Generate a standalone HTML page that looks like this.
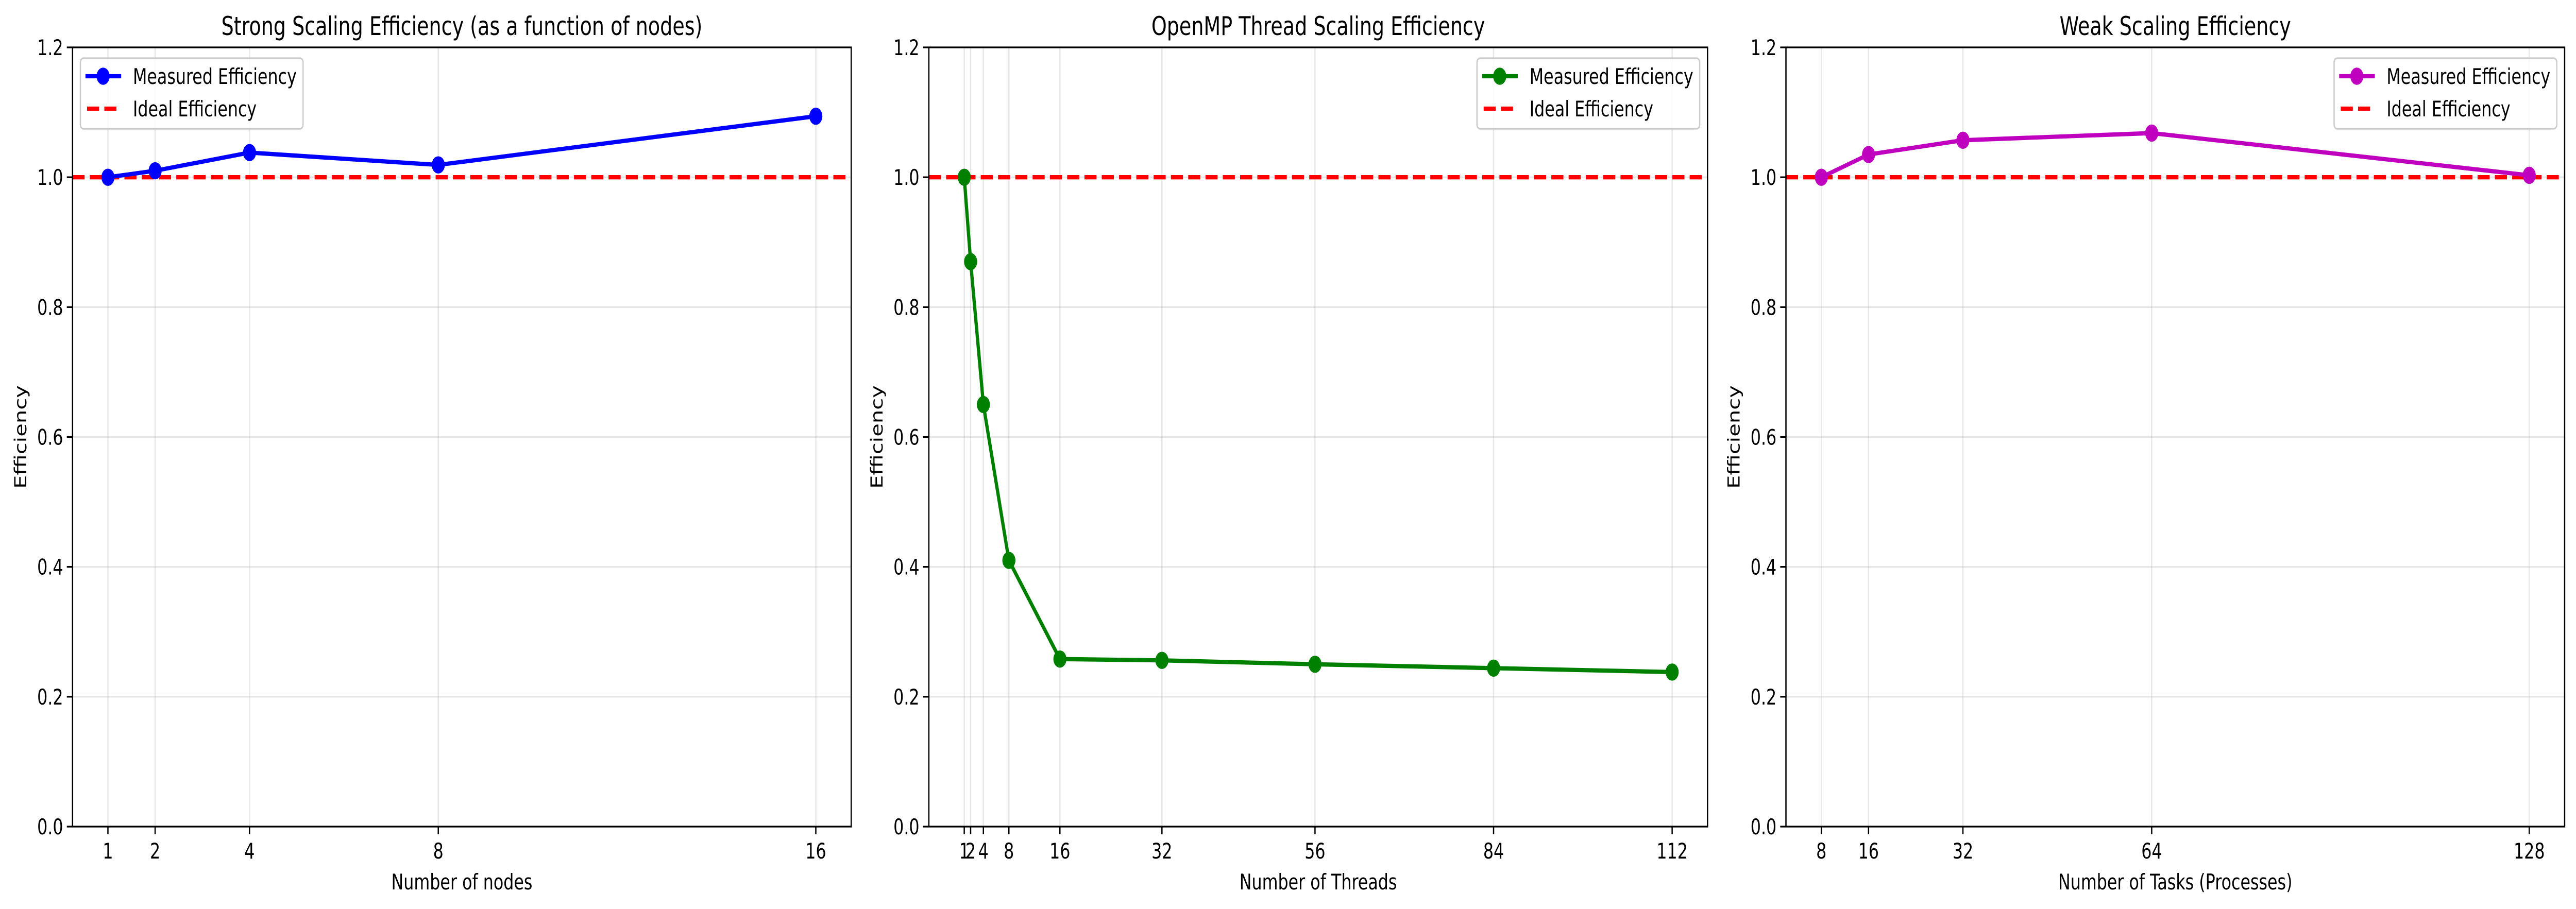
<!DOCTYPE html>
<html><head><meta charset="utf-8">
<style>
html,body{margin:0;padding:0;background:#fff;width:100%;height:100%;overflow:hidden;}
svg{display:block;width:100vw;height:100vh;}
text{font-family:"DejaVu Sans","Liberation Sans",sans-serif;fill:#000;}
</style></head>
<body>
<svg id="fig" xmlns="http://www.w3.org/2000/svg" viewBox="0 0 6570 1765" preserveAspectRatio="none"></svg>
<script>
// Panel 1: strong scaling
const strongNodes = [1, 2, 4, 8, 16];
const strongEff = [1.0, 1.01, 1.038, 1.019, 1.094];
// Panel 2: OpenMP thread scaling
const threadCounts = [1, 2, 4, 8, 16, 32, 56, 84, 112];
const threadEff = [1.0, 0.87, 0.65, 0.41, 0.258, 0.256, 0.25, 0.244, 0.238];
// Panel 3: weak scaling
const weakTasks = [8, 16, 32, 64, 128];
const weakEff = [1.0, 1.035, 1.057, 1.068, 1.003];
const yTicks = [0.0, 0.2, 0.4, 0.6, 0.8, 1.0, 1.2];
const idealValue = 1.0;

const NS = 'http://www.w3.org/2000/svg';
const svg = document.getElementById('fig');
function mk(tag, attrs, parent, txt) {
  const e = document.createElementNS(NS, tag);
  for (const k in attrs) e.setAttribute(k, attrs[k]);
  if (txt !== undefined) e.textContent = txt;
  (parent || svg).appendChild(e);
  return e;
}

const panels = [
  {key: 'strong', left: 185, title: 'Strong Scaling Efficiency (as a function of nodes)', xlabel: 'Number of nodes', xs: strongNodes, ys: strongEff, color: '#0000ff', legend: 'left'},
  {key: 'openmp', left: 2369, title: 'OpenMP Thread Scaling Efficiency', xlabel: 'Number of Threads', xs: threadCounts, ys: threadEff, color: '#008000', legend: 'right'},
  {key: 'weak', left: 4555, title: 'Weak Scaling Efficiency', xlabel: 'Number of Tasks (Processes)', xs: weakTasks, ys: weakEff, color: '#bf00bf', legend: 'right'}
];
const W = 1986, TOP = 92, BOT = 1605, H = BOT - TOP;

panels.forEach(p => {
  const g = mk('g', {});
  
  
  const mn = Math.min(...p.xs), mx = Math.max(...p.xs);
  const pad = (mx - mn) * 0.05;
  const x0 = mn - pad, x1 = mx + pad;
  const X = v => p.left + (v - x0) / (x1 - x0) * W;
  const Y = v => BOT - v / 1.2 * H;
  const R = p.left + W;

  p.xs.forEach(v => {
    const l = mk('line', {x1: X(v), x2: X(v), y1: TOP, y2: BOT, stroke: '#b0b0b0', 'stroke-opacity': 0.3, 'stroke-width': 3.3}, g);
    
    
  });
  yTicks.forEach(v => {
    const l = mk('line', {x1: p.left, x2: R, y1: Y(v), y2: Y(v), stroke: '#b0b0b0', 'stroke-opacity': 0.3, 'stroke-width': 3.3}, g);
    
    
  });

  const clipId = 'clip-' + p.key;
  const cp = mk('clipPath', {id: clipId}, g);
  mk('rect', {x: p.left, y: TOP, width: W, height: H}, cp);
  const ideal = mk('line', {x1: p.left, x2: R, y1: Y(idealValue), y2: Y(idealValue), stroke: '#ff0000', 'stroke-width': 8.3, 'stroke-dasharray': '30.8 13.3', 'clip-path': 'url(#' + clipId + ')'}, g);
  
  

  const pts = p.xs.map((v, i) => X(v) + ',' + Y(p.ys[i])).join(' ');
  const pl = mk('polyline', {points: pts, fill: 'none', stroke: p.color, 'stroke-width': 8.3, 'stroke-linejoin': 'round'}, g);
  
  
  p.xs.forEach((v, i) => {
    const c = mk('circle', {cx: X(v), cy: Y(p.ys[i]), r: 16.7, fill: p.color}, g);
    
    
  });

  const sp = mk('rect', {x: p.left, y: TOP, width: W, height: H, fill: 'none', stroke: '#000', 'stroke-width': 3.3}, g);
  
  

  p.xs.forEach(v => {
    mk('line', {x1: X(v), x2: X(v), y1: BOT, y2: BOT + 14.6, stroke: '#000', 'stroke-width': 3.3}, g);
    const t = mk('text', {x: X(v), y: BOT + 62, 'font-size': 41.7, 'text-anchor': 'middle'}, g, String(v));
    
    
  });
  yTicks.forEach(v => {
    mk('line', {x1: p.left - 14.6, x2: p.left, y1: Y(v), y2: Y(v), stroke: '#000', 'stroke-width': 3.3}, g);
    const t = mk('text', {x: p.left - 24, y: Y(v) + 15, 'font-size': 41.7, 'text-anchor': 'end'}, g, v.toFixed(1));
    
    
  });

  const tt = mk('text', {x: p.left + W / 2, y: 68, 'font-size': 50, 'text-anchor': 'middle'}, g, p.title);
  
  
  const xl = mk('text', {x: p.left + W / 2, y: 1727, 'font-size': 41.7, 'text-anchor': 'middle'}, g, p.xlabel);
  
  
  const yx = p.left - 118;
  const yl = mk('text', {x: yx, y: (TOP + BOT) / 2, 'font-size': 41.7, 'text-anchor': 'middle', transform: 'rotate(-90 ' + yx + ' ' + (TOP + BOT) / 2 + ')'}, g, 'Efficiency');
  
  

  const lw = 568, lh = 137;
  const lx = p.legend === 'left' ? p.left + 20 : R - 20 - lw;
  const ly = 113;
  const lg = mk('g', {}, g);
  
  
  mk('rect', {x: lx, y: ly, width: lw, height: lh, rx: 8, fill: '#fff', 'fill-opacity': 0.8, stroke: '#cccccc', 'stroke-width': 3.3}, lg);
  const e1 = mk('g', {}, lg);
  
  
  mk('line', {x1: lx + 13, x2: lx + 104, y1: ly + 35, y2: ly + 35, stroke: p.color, 'stroke-width': 8.3}, e1);
  mk('circle', {cx: lx + 58, cy: ly + 35, r: 16.7, fill: p.color}, e1);
  mk('text', {x: lx + 134, y: ly + 50, 'font-size': 41.7}, e1, 'Measured Efficiency');
  const e2 = mk('g', {}, lg);
  
  
  mk('line', {x1: lx + 17, x2: lx + 104, y1: ly + 98, y2: ly + 98, stroke: '#ff0000', 'stroke-width': 8.3, 'stroke-dasharray': '30.8 13.3'}, e2);
  mk('text', {x: lx + 134, y: ly + 113, 'font-size': 41.7}, e2, 'Ideal Efficiency');
});
</script>
</body></html>
